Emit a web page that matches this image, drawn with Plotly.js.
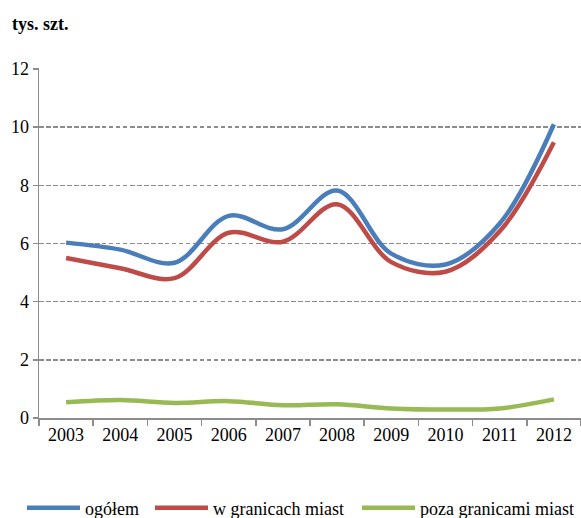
<!DOCTYPE html>
<html>
<head>
<meta charset="utf-8">
<script src="https://cdn.plot.ly/plotly-3.0.1.min.js"></script>
<style>html,body{margin:0;padding:0;background:#fff;}#chart{width:581px;height:518px;}</style>
</head>
<body>
<div id="chart"></div>
<script>
var years = ['2003','2004','2005','2006','2007','2008','2009','2010','2011','2012'];
var ogolem = [6.03, 5.79, 5.34, 6.95, 6.49, 7.82, 5.65, 5.28, 6.69, 10.1];
var wGranicachMiast = [5.5, 5.15, 4.81, 6.37, 6.06, 7.35, 5.36, 5.03, 6.42, 9.48];
var pozaGranicamiMiast = [0.54, 0.62, 0.52, 0.58, 0.44, 0.47, 0.33, 0.29, 0.33, 0.64];
var seriesNames = ['ogółem', 'w granicach miast', 'poza granicami miast'];
var yTicks = [0, 2, 4, 6, 8, 10, 12];

var colors = ['#4a7ebb', '#be4b48', '#98b954'];
var font = 'Liberation Serif';

function tr(y, i, leg) {
  return {
    x: years, y: y, name: seriesNames[i], type: 'scatter', mode: 'lines',
    line: {color: colors[i], width: 4.5, shape: 'spline', smoothing: 1},
    legend: leg, hoverinfo: 'skip'
  };
}
var data = [
  tr(ogolem, 0, 'legend'),
  tr(wGranicachMiast, 1, 'legend2'),
  tr(pozaGranicamiMiast, 2, 'legend3')
];

var plotH = 350;
function leg(xpx) {
  return {
    x: (xpx - 39) / 542, xanchor: 'left', xref: 'paper',
    y: -(508 - 418) / plotH, yanchor: 'middle', yref: 'paper',
    orientation: 'h', font: {family: font, size: 18, color: '#000'},
    bgcolor: 'rgba(0,0,0,0)', borderwidth: 0, itemwidth: 53
  };
}

var layout = {
  width: 581, height: 518,
  margin: {l: 39, r: 0, t: 68, b: 100, pad: 0, autoexpand: false},
  paper_bgcolor: '#fff', plot_bgcolor: '#fff',
  font: {family: font, size: 18, color: '#000'},
  title: {
    text: '<b>tys. szt.</b>', xref: 'container', yref: 'container',
    x: 12 / 581, xanchor: 'left', y: 1 - 24 / 518, yanchor: 'middle',
    font: {family: font, size: 18, color: '#000', weight: 'bold'}
  },
  showlegend: true,
  legend: leg(22),
  legend2: leg(150),
  legend3: leg(357),
  xaxis: {
    type: 'category', range: [-0.5, 9.5], automargin: false,
    showline: true, linecolor: '#8c8c8c', linewidth: 1.5,
    ticks: 'outside', tickson: 'boundaries', ticklen: 6, tickcolor: '#8c8c8c', tickwidth: 1.5,
    showgrid: false, tickfont: {family: font, size: 18, color: '#000'}, fixedrange: true
  },
  yaxis: {
    range: [0, 12 * plotH / 349], tickvals: yTicks, ticktext: yTicks.map(String), automargin: false,
    showline: true, linecolor: '#8c8c8c', linewidth: 1.5,
    ticks: 'outside', ticklen: 5, tickcolor: '#8c8c8c', tickwidth: 1.5,
    showgrid: true, gridcolor: '#8c8c8c', gridwidth: 1.5, griddash: '4.5px,2.5px',
    zeroline: false, tickfont: {family: font, size: 18, color: '#000'}, fixedrange: true
  }
};

Plotly.newPlot('chart', data, layout, {staticPlot: true, displayModeBar: false});
</script>
</body>
</html>
